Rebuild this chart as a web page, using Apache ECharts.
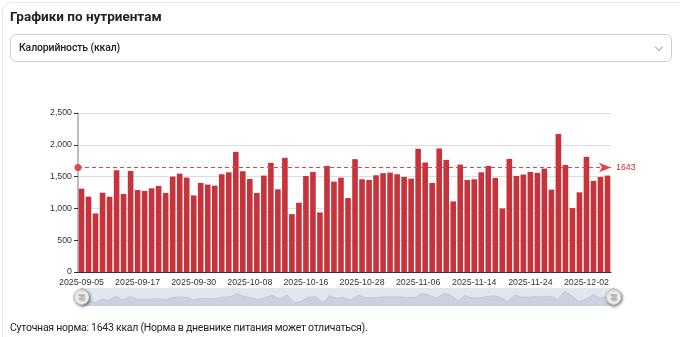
<!DOCTYPE html>
<html>
<head>
<meta charset="utf-8">
<script src="https://cdn.jsdelivr.net/npm/echarts@6/dist/echarts.min.js"></script>
<style>
  html, body { margin: 0; padding: 0; width: 680px; height: 337px; background: #fff; overflow: hidden; font-family: Roboto, "Noto Sans", sans-serif; }
  #card { position: absolute; left: 2px; top: 2px; width: 700px; height: 360px; border: 1px solid #e6e6e6; border-radius: 10px; }
  #title { position: absolute; left: 10px; top: 8px; font-size: 13.5px; font-weight: 700; color: #222; }
  #select { position: absolute; left: 10px; top: 34px; width: 662px; height: 28px; border: 1px solid #cfcfcf; border-radius: 6px; box-sizing: border-box; }
  #select span { position: absolute; left: 8px; top: 6px; font-size: 10.5px; letter-spacing: -0.15px; font-weight: 500; color: #222; }
  #chev { position: absolute; right: 9px; top: 9px; width: 5px; height: 5px; border-right: 1px solid #aaa; border-bottom: 1px solid #aaa; transform: rotate(45deg); }
  #chart { position: absolute; left: 0; top: 0; width: 680px; height: 337px; }
  #foot { position: absolute; left: 10px; top: 321px; font-size: 10.5px; letter-spacing: -0.25px; color: #222; }
</style>
</head>
<body>
<div id="card"></div>
<div id="chart"></div>
<div id="title">Графики по нутриентам</div>
<div id="select"><span>Калорийность (ккал)</span><div id="chev"></div></div>
<div id="foot">Суточная норма: 1643 ккал (Норма в дневнике питания может отличаться).</div>
<script>
const dates = [
  "2025-09-05","2025-09-06","2025-09-07","2025-09-09","2025-09-10","2025-09-12","2025-09-13","2025-09-15",
  "2025-09-17","2025-09-18","2025-09-20","2025-09-21","2025-09-23","2025-09-24","2025-09-26","2025-09-28",
  "2025-09-30","2025-10-01","2025-10-02","2025-10-03","2025-10-04","2025-10-05","2025-10-06","2025-10-07",
  "2025-10-08","2025-10-09","2025-10-10","2025-10-11","2025-10-12","2025-10-13","2025-10-14","2025-10-15",
  "2025-10-16","2025-10-17","2025-10-19","2025-10-20","2025-10-22","2025-10-23","2025-10-25","2025-10-26",
  "2025-10-28","2025-10-29","2025-10-30","2025-10-31","2025-11-01","2025-11-02","2025-11-03","2025-11-05",
  "2025-11-06","2025-11-07","2025-11-08","2025-11-09","2025-11-10","2025-11-11","2025-11-12","2025-11-13",
  "2025-11-14","2025-11-15","2025-11-16","2025-11-17","2025-11-18","2025-11-20","2025-11-21","2025-11-23",
  "2025-11-24","2025-11-25","2025-11-26","2025-11-27","2025-11-28","2025-11-29","2025-11-30","2025-12-01",
  "2025-12-02","2025-12-03","2025-12-04","2025-12-05"
];
const calories = [
  1310,1184,921,1247,1184,1600,1226,1589,
  1289,1274,1316,1353,1242,1500,1547,1484,
  1205,1400,1374,1358,1537,1568,1889,1584,
  1463,1242,1516,1716,1300,1795,910,1089,
  1510,1574,937,1668,1421,1484,1163,1774,
  1458,1447,1521,1553,1563,1537,1495,1468,
  1937,1721,1400,1942,1763,1110,1689,1447,
  1458,1568,1668,1479,1000,1779,1510,1532,
  1574,1558,1626,1295,2168,1684,1005,1253,
  1811,1432,1495,1516
];
const norm = 1643;
const barColor = '#c6333a';
const axisFont = '"Liberation Sans", Arial, sans-serif';

const chart = echarts.init(document.getElementById('chart'), null, { renderer: 'canvas' });
chart.setOption({
  animation: false,
  textStyle: { fontFamily: axisFont },
  grid: { left: 78, right: 69, top: 113, bottom: 65 },
  xAxis: {
    type: 'category',
    data: dates,
    axisLine: { lineStyle: { color: '#333' } },
    axisTick: { interval: 7, lineStyle: { color: '#333' } },
    axisLabel: { interval: 7, fontSize: 8.8, fontFamily: axisFont, color: '#333', margin: 6 }
  },
  yAxis: {
    type: 'value',
    min: 0, max: 2500, interval: 500,
    axisLine: { show: true, lineStyle: { color: '#aaa', width: 1.5 } },
    axisTick: { show: true, length: 4, lineStyle: { color: '#333' } },
    axisLabel: { fontSize: 8.8, fontFamily: axisFont, color: '#333', margin: 6 },
    splitLine: { lineStyle: { color: '#ddd' } }
  },
  dataZoom: [{
    type: 'slider',
    start: 0, end: 100,
    left: 78, right: 68,
    top: 288, height: 18,
    borderColor: 'transparent',
    backgroundColor: 'rgba(47,69,84,0)',
    fillerColor: 'rgba(167,183,204,0.35)',
    moveHandleSize: 0,
    showDetail: false,
    brushSelect: false,
    dataBackground: {
      lineStyle: { color: '#c5ccd8', width: 0.8 },
      areaStyle: { color: '#c5ccd8', opacity: 0.6 }
    },
    selectedDataBackground: {
      lineStyle: { color: '#c5ccd8', width: 0.8 },
      areaStyle: { color: '#c5ccd8', opacity: 0.6 }
    },
    handleIcon: 'path://M10.7,11.9v-1.3H9.3v1.3c-4.9,0.3-8.8,4.4-8.8,9.4c0,5,3.9,9.1,8.8,9.4v1.3h1.3v-1.3c4.9-0.3,8.8-4.4,8.8-9.4C19.5,16.3,15.6,12.2,10.7,11.9z M13.3,24.4H6.7V23h6.6V24.4z M13.3,19.6H6.7v-1.4h6.6V19.6z',
    handleSize: '95%',
    handleStyle: { color: '#fff', borderColor: '#bbb', shadowBlur: 3, shadowColor: 'rgba(0,0,0,0.5)', shadowOffsetX: 1, shadowOffsetY: 1 }
  }],
  series: [{
    type: 'bar',
    data: calories,
    itemStyle: { color: barColor },
    barCategoryGap: '20%',
    markLine: {
      silent: true,
      symbol: ['circle', 'arrow'],
      symbolSize: [7, 12],
      lineStyle: { color: '#e0464c', type: [4, 3], width: 1 },
      label: { position: 'end', color: '#c6333a', fontSize: 8.8, fontFamily: axisFont, formatter: String(norm) },
      data: [{ yAxis: norm }]
    }
  }]
});
</script>
</body>
</html>
